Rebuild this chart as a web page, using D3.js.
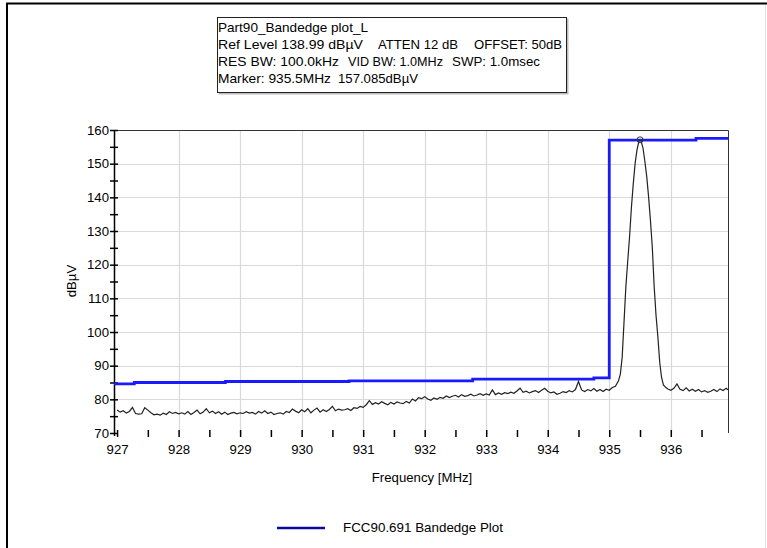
<!DOCTYPE html>
<html>
<head>
<meta charset="utf-8">
<script src="https://cdn.jsdelivr.net/npm/d3@7"></script>
<style>
  html, body { margin: 0; padding: 0; background: #fff; }
  svg { display: block; font-family: "Liberation Sans", Arial, sans-serif; }
</style>
</head>
<body>
<svg id="chart" width="767" height="548"></svg>
<script>
// ---- data ----
const infoLines = [
  ["Part90_Bandedge plot_L"],
  ["Ref Level 138.99 dBµV", "ATTEN 12 dB", "OFFSET: 50dB"],
  ["RES BW: 100.0kHz", "VID BW: 1.0MHz", "SWP: 1.0msec"],
  ["Marker: 935.5MHz", "157.085dBµV"]
];
const xTicks = [927, 928, 929, 930, 931, 932, 933, 934, 935, 936];
const yTicks = [70, 80, 90, 100, 110, 120, 130, 140, 150, 160];
const xLabel = "Frequency [MHz]";
const yLabel = "dBµV";
const legendLabel = "FCC90.691 Bandedge Plot";

// limit line (step breakpoints)
const limitFreq  = [926.95, 927.28, 928.76, 930.77, 932.78, 934.75, 935.0, 936.41, 936.93];
const limitLevel = [84.6,   85.0,   85.3,   85.5,   86.0,   86.4,   157.0, 157.5,  157.5];

// measured trace
const traceFreq = [
 927.00,927.05,927.10,927.15,927.20,927.25,927.30,927.35,927.40,927.45,
 927.50,927.55,927.60,927.65,927.70,927.75,927.80,927.85,927.90,927.95,
 928.00,928.05,928.10,928.15,928.20,928.25,928.30,928.35,928.40,928.45,
 928.50,928.55,928.60,928.65,928.70,928.75,928.80,928.85,928.90,928.95,
 929.00,929.05,929.10,929.15,929.20,929.25,929.30,929.35,929.40,929.45,
 929.50,929.55,929.60,929.65,929.70,929.75,929.80,929.85,929.90,929.95,
 930.00,930.05,930.10,930.15,930.20,930.25,930.30,930.35,930.40,930.45,
 930.50,930.55,930.60,930.65,930.70,930.75,930.80,930.85,930.90,930.95,
 931.00,931.05,931.10,931.15,931.20,931.25,931.30,931.35,931.40,931.45,
 931.50,931.55,931.60,931.65,931.70,931.75,931.80,931.85,931.90,931.95,
 932.00,932.05,932.10,932.15,932.20,932.25,932.30,932.35,932.40,932.45,
 932.50,932.55,932.60,932.65,932.70,932.75,932.80,932.85,932.90,932.95,
 933.00,933.05,933.10,933.15,933.20,933.25,933.30,933.35,933.40,933.45,
 933.50,933.55,933.60,933.65,933.70,933.75,933.80,933.85,933.90,933.95,
 934.00,934.05,934.10,934.15,934.20,934.25,934.30,934.35,934.40,934.45,
 934.50,934.55,934.60,934.65,934.70,934.75,934.80,934.85,934.90,934.95,
 935.00,935.05,935.10,935.15,935.18,935.21,935.24,935.27,935.30,935.33,
 935.36,935.39,935.42,935.45,935.48,935.50,935.52,935.55,935.58,935.61,
 935.64,935.67,935.70,935.73,935.76,935.79,935.82,935.85,935.88,935.92,
 935.96,936.00,936.05,936.10,936.15,936.20,936.25,936.30,936.35,936.40,
 936.45,936.50,936.55,936.60,936.65,936.70,936.75,936.80,936.85,936.90,936.93
];
const traceLevel = [
 76.8,76.2,76.6,75.9,76.4,77.6,75.8,75.6,75.7,77.5,
 76.8,76.0,75.4,75.6,75.3,75.9,75.5,76.3,75.8,76.1,
 75.7,76.0,75.6,76.4,75.5,76.1,76.8,75.7,76.2,77.2,
 76.0,76.5,75.8,76.3,75.6,76.2,75.5,75.9,76.1,75.7,
 76.0,75.8,76.3,75.9,76.1,75.6,76.4,75.9,76.6,75.8,
 76.2,75.5,75.8,76.0,75.6,76.4,76.1,77.1,76.5,76.0,
 76.9,76.3,77.2,76.0,76.8,77.4,76.2,76.9,76.4,77.0,
 77.9,76.6,77.1,76.8,76.9,77.2,76.7,77.5,77.3,77.9,
 77.6,78.4,79.6,78.5,79.0,78.6,79.3,78.8,78.4,79.1,
 78.6,79.2,78.9,78.7,79.4,78.9,80.1,79.5,80.5,80.2,
 80.8,80.1,79.7,80.4,80.0,80.6,80.3,81.0,80.5,80.9,
 81.2,80.7,81.4,80.9,81.1,81.5,81.0,81.3,81.7,81.2,
 81.6,81.3,82.8,81.4,81.9,81.5,82.0,81.7,82.1,81.8,
 82.5,83.3,82.1,82.4,81.9,82.3,82.6,82.0,82.7,83.3,
 82.4,81.9,82.2,81.5,81.8,82.3,82.0,82.6,82.2,82.9,
 85.3,82.8,82.3,82.9,82.5,83.2,82.4,82.9,82.3,83.0,
 82.7,83.5,83.9,85.5,87.5,92.5,103.0,113.5,121.0,128.3,
 137.0,144.0,150.0,154.0,156.5,157.1,156.6,154.5,150.5,146.0,
 140.0,133.0,125.0,113.5,105.0,98.6,91.0,86.5,84.3,83.5,
 83.0,82.7,83.3,84.6,83.0,82.6,83.4,82.5,83.0,82.4,
 82.9,82.2,82.6,82.1,82.4,82.9,82.3,83.1,82.6,83.3,82.8
];
const markerFreq = 935.5, markerLevel = 157.085;

// ---- layout ----
const svg = d3.select("#chart");
const L = 114, R = 728, T = 130, B = 433;
const x = d3.scaleLinear().domain([926.95, 936.93]).range([L, R]);
const y = d3.scaleLinear().domain([70, 160]).range([B, T]);
const fontSize = 13.2;

// outer frame
svg.append("line").attr("x1", 6).attr("x2", 767).attr("y1", 3.5).attr("y2", 3.5)
  .attr("stroke", "#000").attr("stroke-width", 2);
svg.append("line").attr("x1", 7).attr("x2", 7).attr("y1", 3).attr("y2", 548)
  .attr("stroke", "#000").attr("stroke-width", 2);
svg.append("line").attr("x1", 765.5).attr("x2", 765.5).attr("y1", 5).attr("y2", 548)
  .attr("stroke", "#e4e4e4").attr("stroke-width", 1);

// grid
const grid = svg.append("g");
grid.selectAll("line.v").data(xTicks.slice(1)).join("line")
  .attr("x1", d => Math.round(x(d)) + 0.5).attr("x2", d => Math.round(x(d)) + 0.5)
  .attr("y1", T).attr("y2", B).attr("stroke", "#d9d9d9").attr("stroke-width", 1.2);
grid.selectAll("line.h").data(yTicks.slice(1, -1)).join("line")
  .attr("x1", L).attr("x2", R)
  .attr("y1", d => Math.round(y(d)) + 0.5).attr("y2", d => Math.round(y(d)) + 0.5)
  .attr("stroke", "#d9d9d9").attr("stroke-width", 1.2);

// top & right border
svg.append("path").attr("d", `M${L},${T + 0.5}H${R + 0.5}V${B}`)
  .attr("fill", "none").attr("stroke", "#333").attr("stroke-width", 1);

// axes
const yAxis = d3.axisLeft(y).tickValues(yTicks).tickSize(4).tickPadding(1).tickFormat(d3.format("d"));
const gy = svg.append("g").attr("transform", `translate(${L},0)`).call(yAxis);
const yMinor = d3.axisLeft(y).tickValues(d3.range(75, 160, 10)).tickSize(4).tickFormat("");
const gym = svg.append("g").attr("transform", `translate(${L},0)`).call(yMinor);
const xAxis = d3.axisBottom(x).tickValues(xTicks).tickSize(4).tickPadding(8).tickFormat(d3.format("d"));
const gx = svg.append("g").attr("transform", `translate(0,${B})`).call(xAxis);
const xMinor = d3.axisBottom(x).tickValues(xTicks.map(d => d + 0.5)).tickSize(4).tickFormat("");
const gxm = svg.append("g").attr("transform", `translate(0,${B})`).call(xMinor);

[gy, gym, gx, gxm].forEach(g => {
  g.select(".domain").attr("stroke", "#000").attr("stroke-width", 1.5);
  g.selectAll(".tick line").attr("stroke", "#000").attr("stroke-width", 1.5);
  g.selectAll("text").attr("font-size", fontSize).attr("fill", "#000")
    .attr("font-family", "'Liberation Sans', Arial, sans-serif");
});
// ticks cross the axis
gy.selectAll(".tick line").attr("x1", 4);
gym.selectAll(".tick line").attr("x1", 4);
gx.selectAll(".tick line").attr("y1", -3);
gxm.selectAll(".tick line").attr("y1", -3);
gy.selectAll(".domain").attr("d", `M0.5,${B + 3}V${T}`);
gx.selectAll(".domain").attr("d", `M${L},${B}H${R}`);
gym.select(".domain").remove();
gxm.select(".domain").remove();

// axis labels
svg.append("text").attr("x", 422).attr("y", 482).attr("text-anchor", "middle")
  .attr("font-size", fontSize).text(xLabel);
svg.append("text").attr("transform", "translate(76,281) rotate(-90)")
  .attr("text-anchor", "middle").attr("font-size", fontSize).text(yLabel);

// clip
svg.append("clipPath").attr("id", "clip").append("rect")
  .attr("x", L).attr("y", T - 5).attr("width", R - L).attr("height", B - T + 5);

// limit line
const limitData = limitFreq.map((f, i) => [f, limitLevel[i]]);
svg.append("path").datum(limitData)
  .attr("clip-path", "url(#clip)")
  .attr("fill", "none").attr("stroke", "#1a1aff").attr("stroke-width", 2.8)
  .attr("d", d3.line().x(d => x(d[0])).y(d => y(d[1])).curve(d3.curveStepAfter));

// trace
const traceData = traceFreq.map((f, i) => [f, traceLevel[i]]);
svg.append("path").datum(traceData)
  .attr("clip-path", "url(#clip)")
  .attr("fill", "none").attr("stroke", "#222").attr("stroke-width", 1.2)
  .attr("d", d3.line().x(d => x(d[0])).y(d => y(d[1])));

// marker
svg.append("circle").attr("cx", x(markerFreq)).attr("cy", y(markerLevel)).attr("r", 3)
  .attr("fill", "none").attr("stroke", "#333").attr("stroke-width", 1);

// info box
svg.append("rect").attr("x", 218.5).attr("y", 18.5).attr("width", 350).attr("height", 76)
  .attr("fill", "#bbb");
svg.append("rect").attr("x", 217.5).attr("y", 17.5).attr("width", 349).attr("height", 75)
  .attr("fill", "#fff").attr("stroke", "#222").attr("stroke-width", 1);
// [start, width] of each text segment
const segPos = [
  [[218, 150]],
  [[218, 145], [378, 80], [474, 88]],
  [[218, 121], [348, 95], [452, 88]],
  [[218, 113], [338, 80]]
];
infoLines.forEach((line, i) => {
  line.forEach((t, j) => {
    svg.append("text").attr("x", segPos[i][j][0]).attr("y", 32 + i * 17)
      .attr("font-size", 13.5).attr("fill", "#000")
      .attr("textLength", segPos[i][j][1]).attr("lengthAdjust", "spacingAndGlyphs")
      .text(t);
  });
});

// legend
svg.append("line").attr("x1", 277).attr("x2", 325).attr("y1", 528).attr("y2", 528)
  .attr("stroke", "#0a0a9a").attr("stroke-width", 2.5);
svg.append("text").attr("x", 343).attr("y", 532).attr("font-size", fontSize)
  .attr("fill", "#000").attr("textLength", 160).attr("lengthAdjust", "spacingAndGlyphs")
  .text(legendLabel);
</script>
</body>
</html>
